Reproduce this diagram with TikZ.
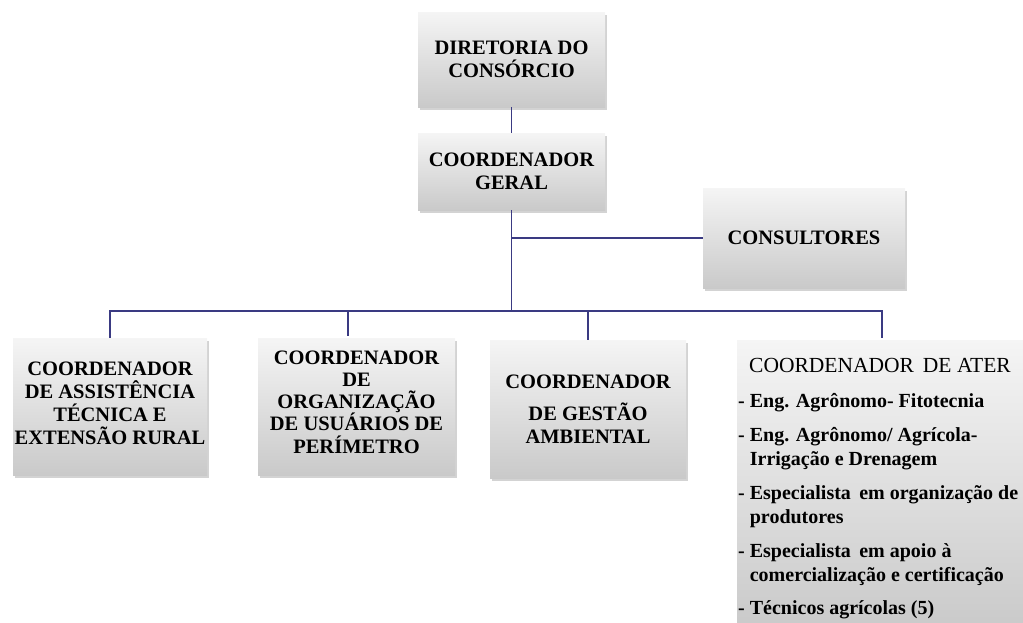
\documentclass[tikz,border=0pt]{standalone}
\usepackage{fontspec}
\setmainfont{Liberation Serif}
\usetikzlibrary{shadows}
\definecolor{linkc}{RGB}{58,58,130}
\tikzset{
  orgbox/.style={draw=none, top color=gray!8, bottom color=gray!42, align=center,
    inner sep=0pt, font=\fontsize{20.5}{23}\selectfont\bfseries,
    drop shadow={opacity=0.35, shadow xshift=2pt, shadow yshift=-3pt}},
  boxtext/.style={align=center, inner sep=0pt, font=\fontsize{20.5}{23}\selectfont\bfseries},
  link/.style={draw=linkc, line width=1.6pt}
}
\begin{document}
\begin{tikzpicture}[x=1pt,y=-1pt]
\useasboundingbox (0,0) rectangle (1023,622);
\clip (0,0) rectangle (1023,622);
\node[orgbox, minimum width=187pt, minimum height=95pt] (dir) at (511.5,59.5) {DIRETORIA DO\\CONSÓRCIO};
\node[orgbox, minimum width=187pt, minimum height=77pt] (ger) at (511.5,171.5) {COORDENADOR\\GERAL};
\node[orgbox, minimum width=202pt, minimum height=100pt] (cons) at (804,238) {CONSULTORES};
\node[orgbox, minimum width=194pt, minimum height=137pt] (c1) at (110,406.5) {};
\node[boxtext] (c1t) at (110,403) {COORDENADOR\\DE ASSISTÊNCIA\\TÉCNICA E\\EXTENSÃO RURAL};
\node[orgbox, minimum width=197pt, minimum height=137pt] (c2) at (356.5,406.5) {};
\node[boxtext, font=\fontsize{20.5}{22.2}\selectfont\bfseries] (c2t) at (356.5,402) {COORDENADOR\\DE\\ORGANIZAÇÃO\\DE USUÁRIOS DE\\PERÍMETRO};
\node[orgbox, minimum width=196pt, minimum height=138pt] (c3) at (588,409) {COORDENADOR\\[9pt]DE GESTÃO\\AMBIENTAL};
\node[orgbox, minimum width=293pt, minimum height=290pt, anchor=north west] (c4) at (737,340) {};
\node[anchor=north west, align=left, inner sep=0pt, font=\fontsize{21.5}{24}\selectfont] (c4t) at (749,358) {COORDENADOR\, DE ATER};
\node[anchor=north west, align=left, inner sep=0pt, font=\fontsize{20}{24}\selectfont\bfseries] (c4l) at (738,393)
{- Eng. Agrônomo- Fitotecnia\\[10pt]
- Eng. Agrônomo/ Agrícola-\\
\hphantom{- }Irrigação e Drenagem\\[10pt]
- Especialista\, em organização de\\
\hphantom{- }produtores\\[10pt]
- Especialista\, em apoio à\\
\hphantom{- }comercialização e certificação\\[9pt]
- Técnicos agrícolas (5)};
\coordinate (busy) at (0,311);
\coordinate (d2) at (348,311);
\coordinate (d2e) at (348,336);
\coordinate (d4) at (882,311);
\coordinate (d4e) at (882,338);
\draw[link] (dir.south) -- (ger.north);
\draw[link] (ger.south) -- (ger.south |- busy);
\draw[link] (ger.south |- cons.west) -- (cons.west);
\draw[link] (c1.north) -- (c1.north |- busy) -- (d4) -- (d4e);
\draw[link] (d2) -- (d2e);
\draw[link] (c3.north |- busy) -- (c3.north);
\end{tikzpicture}
\end{document}
